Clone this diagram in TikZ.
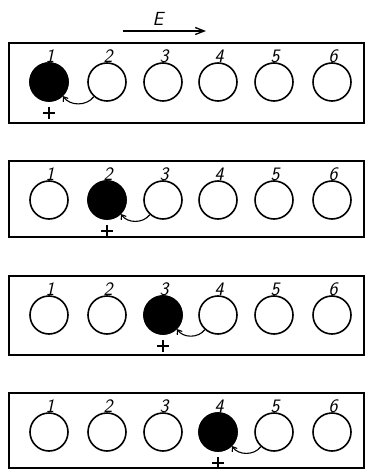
\documentclass[tikz,border=0pt]{standalone}
\usetikzlibrary{arrows.meta}
\begin{document}
\begin{tikzpicture}[x=1pt,y=-1pt,
  frame/.style={line width=2pt},
  ball/.style={circle,draw,line width=1.6pt,minimum size=38pt,inner sep=0pt},
  num/.style={font=\fontsize{19}{19}\selectfont\sffamily\itshape,inner sep=0pt},
  plusline/.style={line width=1.6pt},
  hop/.style={line width=1.1pt,-{Straight Barb[length=4pt,width=6pt]}}]
\useasboundingbox (0,0) rectangle (368,470);
% field arrow
\coordinate (ea) at (123,31);
\coordinate (eb) at (206,31);
\draw[line width=1.3pt,-{Straight Barb[length=9pt,width=7pt]}] (ea) -- (eb);
\node[num] (E) at (158,19) {E};
% panels
\foreach \t/\b/\h [count=\p] in {43/123/1,161/237/2,276/355/3,393/468/4}{
  \draw[frame] (9,\t) rectangle (364,\b);
  \foreach \x [count=\i] in {49,107,163,218,274,332}{
    \node[ball] (c\p-\i) at (\x,\t+39) {};
    \node[num] (n\p-\i) at (\x+1,\t+13) {\i};
  }
  \node[ball,fill=black] (h\p) at (c\p-\h) {};
  \pgfmathtruncatemacro\nx{\h+1}
  \draw[hop] (c\p-\nx.-132) to[bend left=55] (h\p.-45);
  \draw[plusline] ([shift={(-6pt,-31pt)}]h\p.center) -- ([shift={(6pt,-31pt)}]h\p.center);
  \draw[plusline] ([shift={(0pt,-25pt)}]h\p.center) -- ([shift={(0pt,-37pt)}]h\p.center);
}
\end{tikzpicture}
\end{document}
